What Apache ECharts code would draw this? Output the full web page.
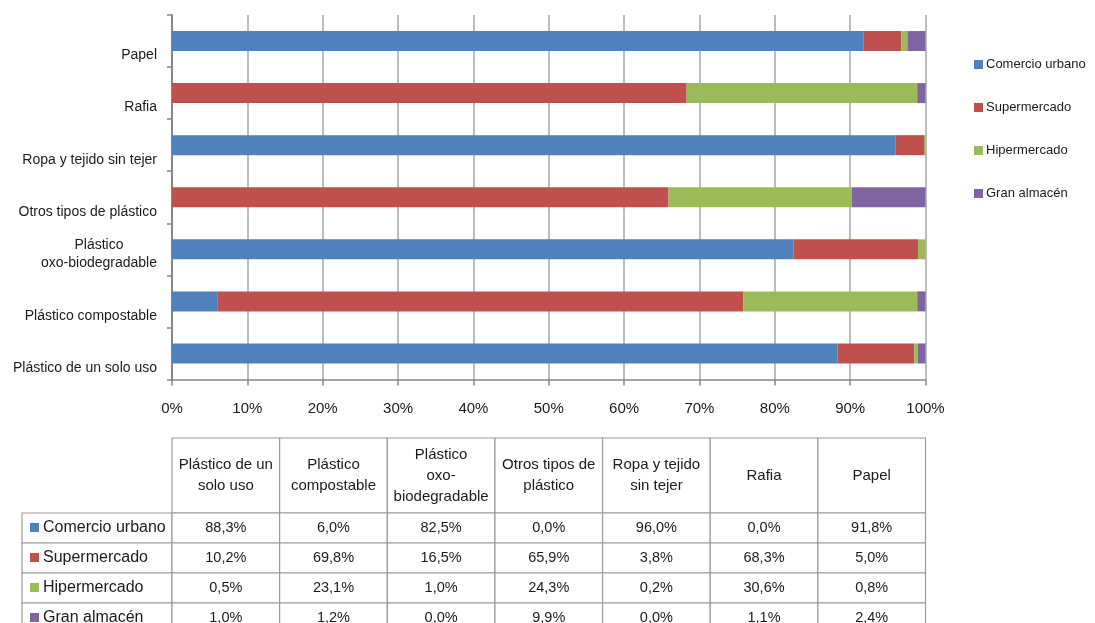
<!DOCTYPE html>
<html>
<head>
<meta charset="utf-8">
<script src="https://cdn.jsdelivr.net/npm/echarts@6/dist/echarts.min.js"></script>
<style>
  html, body { margin: 0; padding: 0; background: #fff; }
  #chart { width: 1095px; height: 623px; }
</style>
</head>
<body>
<div id="chart"></div>
<script>
// categories, bottom to top on the chart, left to right in the table
const categories = [
  'Plástico de un solo uso',
  'Plástico compostable',
  'Plástico oxo-biodegradable',
  'Otros tipos de plástico',
  'Ropa y tejido sin tejer',
  'Rafia',
  'Papel'
];
const axisLabels = [
  'Plástico de un solo uso',
  'Plástico compostable',
  'Plástico\noxo-biodegradable',
  'Otros tipos de plástico',
  'Ropa y tejido sin tejer',
  'Rafia',
  'Papel'
];
const headerLabels = [
  'Plástico de un\nsolo uso',
  'Plástico\ncompostable',
  'Plástico\noxo-\nbiodegradable',
  'Otros tipos de\nplástico',
  'Ropa y tejido\nsin tejer',
  'Rafia',
  'Papel'
];
const seriesNames = ['Comercio urbano', 'Supermercado', 'Hipermercado', 'Gran almacén'];
const comercioUrbano = [88.3, 6.0, 82.5, 0.0, 96.0, 0.0, 91.8];
const supermercado   = [10.2, 69.8, 16.5, 65.9, 3.8, 68.3, 5.0];
const hipermercado   = [0.5, 23.1, 1.0, 24.3, 0.2, 30.6, 0.8];
const granAlmacen    = [1.0, 1.2, 0.0, 9.9, 0.0, 1.1, 2.4];
const xTicks = [0, 10, 20, 30, 40, 50, 60, 70, 80, 90, 100];

const colors = ['#4F81BD', '#C0504D', '#9BBB59', '#8064A2'];
const seriesValues = [comercioUrbano, supermercado, hipermercado, granAlmacen];

const FONT = 'Liberation Sans, Arial, sans-serif';
const W = 1095, H = 623;
const gridLeft = 172, gridRight = 925.5, gridTop = 15, gridBottom = 379.5;

const chart = echarts.init(document.getElementById('chart'), null, { renderer: 'canvas' });

// data table under the plot, built with graphic elements
function buildTable() {
  const els = [];
  const top = 438, headH = 75, rowH = 30, labelLeft = 22;
  const colW = (gridRight - gridLeft) / categories.length;
  const line = '#9a9a9a';
  const fmt = v => v.toFixed(1).replace('.', ',') + '%';

  // header cells
  categories.forEach((c, i) => {
    const x = gridLeft + i * colW;
    els.push({
      type: 'rect', shape: { x, y: top, width: colW, height: headH },
      style: { fill: '#fff', stroke: line, lineWidth: 1.2 }, silent: true
    });
    els.push({
      type: 'text',
      style: {
        x: x + colW / 2, y: top + headH / 2, text: headerLabels[i],
        textAlign: 'center', textVerticalAlign: 'middle',
        font: '15px ' + FONT, fill: '#1a1a1a', lineHeight: 21
      }, silent: true
    });
  });

  // body rows
  seriesNames.forEach((name, r) => {
    const y = top + headH + r * rowH;
    els.push({
      type: 'rect', shape: { x: labelLeft, y, width: gridLeft - labelLeft, height: rowH },
      style: { fill: '#fff', stroke: line, lineWidth: 1.2 }, silent: true
    });
    els.push({
      type: 'rect', shape: { x: labelLeft + 8, y: y + rowH / 2 - 5, width: 9, height: 9 },
      style: { fill: colors[r] }, silent: true
    });
    els.push({
      type: 'text',
      style: {
        x: labelLeft + 21, y: y + rowH / 2, text: name,
        textAlign: 'left', textVerticalAlign: 'middle',
        font: '16px ' + FONT, fill: '#1a1a1a'
      }, silent: true
    });
    seriesValues[r].forEach((v, i) => {
      const x = gridLeft + i * colW;
      els.push({
        type: 'rect', shape: { x, y, width: colW, height: rowH },
        style: { fill: '#fff', stroke: line, lineWidth: 1.2 }, silent: true
      });
      els.push({
        type: 'text',
        style: {
          x: x + colW / 2, y: y + rowH / 2, text: fmt(v),
          textAlign: 'center', textVerticalAlign: 'middle',
          font: '14.5px ' + FONT, fill: '#1a1a1a'
        }, silent: true
      });
    });
  });
  return els;
}

const option = {
  animation: false,
  backgroundColor: '#fff',
  color: colors,
  textStyle: { fontFamily: FONT },
  grid: {
    left: gridLeft, right: W - gridRight, top: gridTop, bottom: H - gridBottom,
    containLabel: false
  },
  legend: {
    orient: 'vertical',
    left: 969, top: 53,
    itemWidth: 9, itemHeight: 9, itemGap: 30,
    icon: 'rect',
    textStyle: { fontSize: 13, color: '#1a1a1a', fontFamily: FONT, padding: [0, 0, 0, -2] },
    data: seriesNames
  },
  xAxis: {
    type: 'value',
    min: xTicks[0], max: xTicks[xTicks.length - 1], interval: 10,
    axisLine: { show: true, lineStyle: { color: '#868686', width: 1.5 } },
    axisTick: { show: true, length: 6, lineStyle: { color: '#868686', width: 1.5 } },
    axisLabel: {
      formatter: '{value}%', fontSize: 15, color: '#1a1a1a', margin: 22, fontFamily: FONT
    },
    splitLine: { show: true, lineStyle: { color: '#a6a6a6', width: 1.5 } }
  },
  yAxis: {
    type: 'category',
    data: axisLabels.map(t => ({
      value: t,
      textStyle: { padding: t.indexOf('\n') >= 0 ? [10, 0, 0, 0] : [29, 0, 0, 0] }
    })),
    axisLine: { show: true, lineStyle: { color: '#868686', width: 2 } },
    axisTick: { show: true, length: 5, lineStyle: { color: '#868686', width: 1.5 } },
    axisLabel: {
      fontSize: 14, color: '#1a1a1a', margin: 15, fontFamily: FONT,
      lineHeight: 18, align: 'right',
      formatter: v => v.indexOf('\n') >= 0
        ? v.split('\n').map(s => '{c|' + s + '}').join('\n')
        : v,
      rich: { c: { align: 'center', fontSize: 14, lineHeight: 18, fontFamily: FONT, color: '#1a1a1a' } }
    }
  },
  series: seriesNames.map((name, k) => ({
    name,
    type: 'bar',
    stack: 'total',
    barWidth: 20,
    data: seriesValues[k],
    itemStyle: { color: colors[k] }
  })),
  graphic: buildTable()
};

chart.setOption(option);
</script>
</body>
</html>
